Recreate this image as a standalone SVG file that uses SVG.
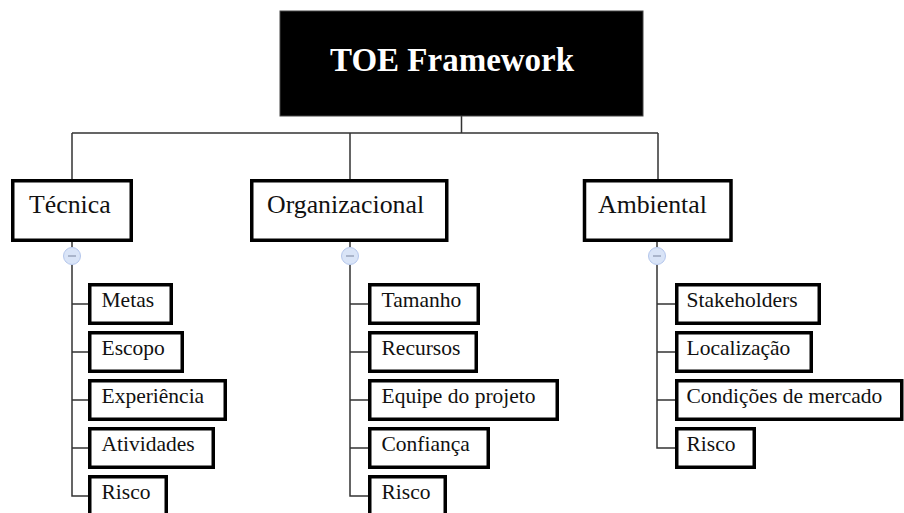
<svg xmlns="http://www.w3.org/2000/svg" width="904" height="513" viewBox="0 0 904 513">
<style>
.box{fill:#fff;stroke:#000;stroke-width:3.5}
.l1{font-family:"Liberation Serif","Times New Roman",serif;font-size:25.8px;fill:#111}
.l2{font-family:"Liberation Serif","Times New Roman",serif;font-size:21.5px;fill:#111}
.conn{fill:none;stroke:#333;stroke-width:1.5}
.tog{fill:#d9e4f7;stroke:#b4c6ec;stroke-width:1}
.minus{stroke:#9aa6bd;stroke-width:1.5}
</style>
<rect width="904" height="513" fill="#fff"/>
<g id="connectors">
<path class="conn" d="M461.5 116V133M72 133H658M72 133V179M350 133V179M658 133V179"/>
<path class="conn" d="M72 242V247M72 265V496H88M72 304H88M72 352H88M72 400H88M72 448H88"/>
<path class="conn" d="M350 242V247M350 265V496H368M350 304H368M350 352H368M350 400H368M350 448H368"/>
<path class="conn" d="M657 242V247M657 265V448H675M657 304H675M657 352H675M657 400H675"/>
</g>
<g id="root">
<rect x="280" y="11" width="363" height="105" fill="#000" stroke="#444" stroke-width="1"/>
<text x="330" y="71" font-family="'Liberation Serif','Times New Roman',serif" font-size="33" font-weight="bold" fill="#fff">TOE Framework</text>
</g>
<g id="tecnica">
<rect class="box" x="12.75" y="180.75" width="118.5" height="59.5"/>
<text class="l1" x="29" y="213">Técnica</text>
<circle class="tog" cx="72" cy="256" r="8.5"/><path class="minus" d="M68 256H76"/>
</g>
<g id="organizacional">
<rect class="box" x="251.75" y="180.75" width="195" height="59.5"/>
<text class="l1" x="267" y="213">Organizacional</text>
<circle class="tog" cx="350" cy="256" r="8.5"/><path class="minus" d="M346 256H354"/>
</g>
<g id="ambiental">
<rect class="box" x="584.5" y="180.75" width="146.5" height="59.5"/>
<text class="l1" x="598" y="213">Ambiental</text>
<circle class="tog" cx="657" cy="256" r="8.5"/><path class="minus" d="M653 256H661"/>
</g>
<g id="metas"><rect class="box" x="89.75" y="284.75" width="81.5" height="38.5"/><text class="l2" x="101.5" y="307">Metas</text></g>
<g id="escopo"><rect class="box" x="89.75" y="332.75" width="92.5" height="38.5"/><text class="l2" x="101.5" y="355">Escopo</text></g>
<g id="experiencia"><rect class="box" x="89.75" y="380.75" width="135.5" height="38.5"/><text class="l2" x="101.5" y="403">Experiência</text></g>
<g id="atividades"><rect class="box" x="89.75" y="428.75" width="123.5" height="38.5"/><text class="l2" x="101.5" y="451">Atividades</text></g>
<g id="risco-t"><rect class="box" x="89.75" y="476.75" width="76.5" height="38.5"/><text class="l2" x="101.5" y="499">Risco</text></g>
<g id="tamanho"><rect class="box" x="369.75" y="284.75" width="108.5" height="38.5"/><text class="l2" x="381.5" y="307">Tamanho</text></g>
<g id="recursos"><rect class="box" x="369.75" y="332.75" width="106.5" height="38.5"/><text class="l2" x="381.5" y="355">Recursos</text></g>
<g id="equipe"><rect class="box" x="369.75" y="380.75" width="187.5" height="38.5"/><text class="l2" x="381.5" y="403">Equipe do projeto</text></g>
<g id="confianca"><rect class="box" x="369.75" y="428.75" width="118.5" height="38.5"/><text class="l2" x="381.5" y="451">Confiança</text></g>
<g id="risco-o"><rect class="box" x="369.75" y="476.75" width="75.5" height="38.5"/><text class="l2" x="381.5" y="499">Risco</text></g>
<g id="stakeholders"><rect class="box" x="676.75" y="284.75" width="142.5" height="38.5"/><text class="l2" x="686.5" y="307">Stakeholders</text></g>
<g id="localizacao"><rect class="box" x="676.75" y="332.75" width="134.5" height="38.5"/><text class="l2" x="686.5" y="355">Localização</text></g>
<g id="condicoes"><rect class="box" x="676.75" y="380.75" width="225" height="38.5"/><text class="l2" x="686.5" y="403">Condições de mercado</text></g>
<g id="risco-a"><rect class="box" x="676.75" y="428.75" width="77.5" height="38.5"/><text class="l2" x="686.5" y="451">Risco</text></g>
</svg>
